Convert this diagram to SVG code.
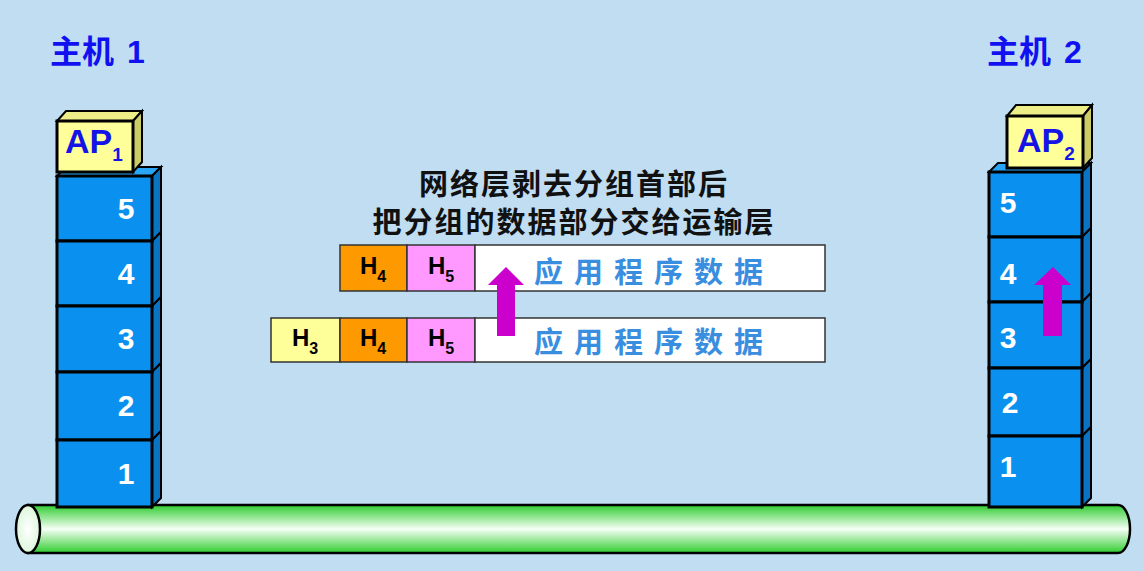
<svg xmlns="http://www.w3.org/2000/svg" width="1144" height="571" viewBox="0 0 1144 571">
<defs>
<linearGradient id="pipe" x1="0" y1="0" x2="0" y2="1">
<stop offset="0" stop-color="#2ecc2e"/>
<stop offset="0.5" stop-color="#f6fff6"/>
<stop offset="1" stop-color="#2ecc2e"/>
</linearGradient>
<radialGradient id="endcap" cx="0.5" cy="0.5" r="0.6">
<stop offset="0" stop-color="#ffffff"/>
<stop offset="1" stop-color="#d6f5d6"/>
</radialGradient>
</defs>
<style>
.bg{fill:#c0ddf2}
.front{fill:#0a90ee;stroke:#000;stroke-width:3}
.side{fill:#0a74c2;stroke:#000;stroke-width:2}
.top{fill:#2aa5f5;stroke:#000;stroke-width:2}
.num{font-family:"Liberation Sans",Arial,sans-serif;font-weight:bold;font-size:30px;fill:#fff;text-anchor:middle}
.title{font-family:"Liberation Sans","Noto Sans CJK SC",sans-serif;font-weight:bold;font-size:32px;fill:#1010f0}
.apf{fill:#ffff99;stroke:#000;stroke-width:3}
.aps{fill:#cccc66;stroke:#000;stroke-width:2}
.apt{fill:#eeee88;stroke:#000;stroke-width:2}
.ap{font-family:"Liberation Sans",Arial,sans-serif;font-weight:bold;font-size:34px;fill:#1414e6}
.cap{font-family:"Noto Sans CJK SC",sans-serif;font-weight:bold;font-size:29px;letter-spacing:2px;fill:#111;text-anchor:middle}
.cell{stroke:#333;stroke-width:1.5}
.h{font-family:"Liberation Sans",Arial,sans-serif;font-weight:bold;font-size:24px;fill:#000;text-anchor:middle}
.data{font-family:"Noto Sans CJK SC",sans-serif;font-weight:bold;font-size:29px;fill:#3a8ee0;letter-spacing:11px}
.arrow{fill:#cc00cc}
</style>
<rect class="bg" x="0" y="0" width="1144" height="571"/>

<g id="pipe-bus">
<path d="M28,505 L1118,505 A12,24 0 0 1 1118,553 L28,553 Z" fill="url(#pipe)" stroke="#000" stroke-width="2.5"/>
<ellipse cx="28" cy="529" rx="12" ry="24" fill="url(#endcap)" stroke="#000" stroke-width="2.5"/>
</g>

<g id="host1">
<text class="title" x="50" y="63">主机 <tspan dx="4">1</tspan></text>
<g id="h1-layers">
<polygon class="top" points="57,176 66,167 161,167 152,176"/>
<polygon class="side" points="152,176 161,167 161,232 152,241"/>
<polygon class="side" points="152,241 161,232 161,297 152,306"/>
<polygon class="side" points="152,306 161,297 161,363 152,372"/>
<polygon class="side" points="152,372 161,363 161,431 152,440"/>
<polygon class="side" points="152,440 161,431 161,498 152,507"/>
<rect class="front" x="57" y="176" width="95" height="65"/>
<rect class="front" x="57" y="241" width="95" height="65"/>
<rect class="front" x="57" y="306" width="95" height="66"/>
<rect class="front" x="57" y="372" width="95" height="68"/>
<rect class="front" x="57" y="440" width="95" height="67"/>
<text class="num" x="126" y="219">5</text>
<text class="num" x="126" y="284">4</text>
<text class="num" x="126" y="349">3</text>
<text class="num" x="126" y="416">2</text>
<text class="num" x="126" y="484">1</text>
</g>
<g id="ap1">
<polygon class="apt" points="57,121 66,111 142,111 133,121"/>
<polygon class="aps" points="133,121 142,111 142,162 133,172"/>
<rect class="apf" x="57" y="121" width="76" height="51"/>
<text class="ap" x="65" y="153">AP<tspan font-size="19" dy="8">1</tspan></text>
</g>
</g>

<g id="host2">
<text class="title" x="987" y="63">主机 <tspan dx="4">2</tspan></text>
<g id="h2-layers">
<polygon class="top" points="989,172 998,163 1091,163 1082,172"/>
<polygon class="side" points="1082,172 1091,163 1091,228 1082,237"/>
<polygon class="side" points="1082,237 1091,228 1091,293 1082,302"/>
<polygon class="side" points="1082,302 1091,293 1091,359 1082,368"/>
<polygon class="side" points="1082,368 1091,359 1091,427 1082,436"/>
<polygon class="side" points="1082,436 1091,427 1091,498 1082,507"/>
<rect class="front" x="989" y="172" width="93" height="65"/>
<rect class="front" x="989" y="237" width="93" height="65"/>
<rect class="front" x="989" y="302" width="93" height="66"/>
<rect class="front" x="989" y="368" width="93" height="68"/>
<rect class="front" x="989" y="436" width="93" height="71"/>
<text class="num" x="1008" y="213">5</text>
<text class="num" x="1008" y="284">4</text>
<text class="num" x="1008" y="348">3</text>
<text class="num" x="1010" y="413">2</text>
<text class="num" x="1008" y="477">1</text>
</g>
<g id="ap2">
<polygon class="apt" points="1007,116 1016,105 1092,105 1083,116"/>
<polygon class="aps" points="1083,116 1092,105 1092,158 1083,168"/>
<rect class="apf" x="1007" y="116" width="76" height="52"/>
<text class="ap" x="1017" y="152">AP<tspan font-size="19" dy="8">2</tspan></text>
</g>
</g>

<g id="caption">
<text class="cap" x="574" y="195">网络层剥去分组首部后</text>
<text class="cap" x="574" y="233">把分组的数据部分交给运输层</text>
</g>

<g id="packet-upper">
<rect class="cell" x="340" y="245" width="67" height="46" fill="#ff9900"/>
<rect class="cell" x="407" y="245" width="68" height="46" fill="#ff99ff"/>
<rect class="cell" x="475" y="245" width="350" height="46" fill="#ffffff"/>
<text class="h" x="373" y="274">H<tspan font-size="16" dy="8">4</tspan></text>
<text class="h" x="441" y="274">H<tspan font-size="16" dy="8">5</tspan></text>
<text class="data" x="534" y="283">应用程序数据</text>
</g>

<g id="packet-lower">
<rect class="cell" x="271" y="318" width="69" height="44" fill="#ffff99"/>
<rect class="cell" x="340" y="318" width="67" height="44" fill="#ff9900"/>
<rect class="cell" x="407" y="318" width="68" height="44" fill="#ff99ff"/>
<rect class="cell" x="475" y="318" width="350" height="44" fill="#ffffff"/>
<text class="h" x="305" y="346">H<tspan font-size="16" dy="8">3</tspan></text>
<text class="h" x="373" y="346">H<tspan font-size="16" dy="8">4</tspan></text>
<text class="h" x="441" y="346">H<tspan font-size="16" dy="8">5</tspan></text>
<text class="data" x="534" y="353">应用程序数据</text>
</g>

<g id="connectors">
<polygon class="arrow" points="506,267 524,285 515,285 515,336 497,336 497,285 488,285"/>
<polygon class="arrow" points="1053,267 1071,285 1062,285 1062,336 1043,336 1043,285 1034,285"/>
</g>
</svg>
